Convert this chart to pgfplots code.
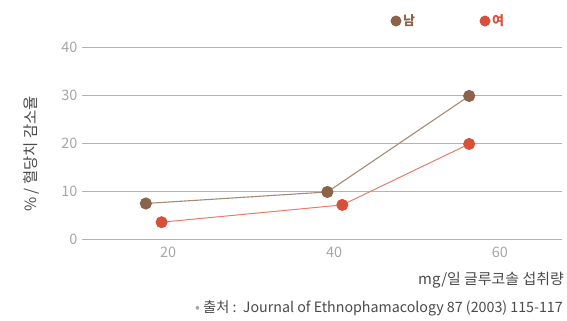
\documentclass[border=0pt]{standalone}
\usepackage{pgfplots}
\pgfplotsset{compat=1.18}
\usepackage{fontspec}
\setmainfont{Noto Sans CJK KR}
\definecolor{gridgray}{HTML}{B4B4B4}
\definecolor{ticklab}{HTML}{A6A6A6}
\definecolor{labtxt}{HTML}{4A4A4A}
\definecolor{brownmk}{HTML}{8A6349}
\definecolor{brownln}{HTML}{A68A78}
\definecolor{redmk}{HTML}{D9503A}
\definecolor{redln}{HTML}{E47E6A}
\begin{document}
\begin{tikzpicture}[x=1bp,y=1bp]
\useasboundingbox (0,0) rectangle (567,320);
\begin{axis}[
  at={(82bp,81bp)}, anchor=south west,
  scale only axis, width=480bp, height=192bp,
  xmin=9.6, xmax=67.5, ymin=0, ymax=40,
  axis line style={draw=none},
  xtick={20,40,60}, ytick={0,10,20,30,40},
  ymajorgrids, grid style={gridgray, line width=0.9bp},
  major tick length=0pt,
  tick label style={ticklab, font=\fontsize{14.5}{14.5}\selectfont},
  /pgf/number format/assume math mode=true,
  yticklabel style={xshift=-1bp},
  xticklabel style={yshift=-4bp},
  clip=false,
]
\addplot[brownln, line width=1.1bp, mark=*, mark size=5.5bp,
  mark options={fill=brownmk, draw=brownmk}]
  coordinates {(17.3,7.4) (39.2,9.8) (56.3,29.8)};
\addplot[redln, line width=1bp, mark=*, mark size=5.5bp,
  mark options={fill=redmk, draw=redmk}]
  coordinates {(19.2,3.5) (41.0,7.1) (56.3,19.8)};
\end{axis}
% legend
\fill[brownmk] (396,299) circle (5.5);
\node[anchor=west, brownmk, font=\fontsize{13}{13}\selectfont\bfseries, inner sep=0] at (403,299) {남};
\fill[redmk] (485,299) circle (5.5);
\node[anchor=west, redmk, font=\fontsize{13}{13}\selectfont\bfseries, inner sep=0] at (492,299) {여};
% axis titles
\node[rotate=90, labtxt, font=\fontsize{15.5}{15.5}\selectfont, inner sep=0] at (31,166) {\% / 혈당치 감소율};
\node[anchor=east, labtxt, font=\fontsize{15}{15}\selectfont, inner sep=0] at (564,40) {mg/일 글루코솔 섭취량};
\node[anchor=east, labtxt, font=\fontsize{14.3}{14.3}\selectfont, inner sep=0] at (563,12) {{\color{ticklab}•} 출처 :\ \ Journal of Ethnophamacology 87 (2003) 115-117};
\end{tikzpicture}
\end{document}
